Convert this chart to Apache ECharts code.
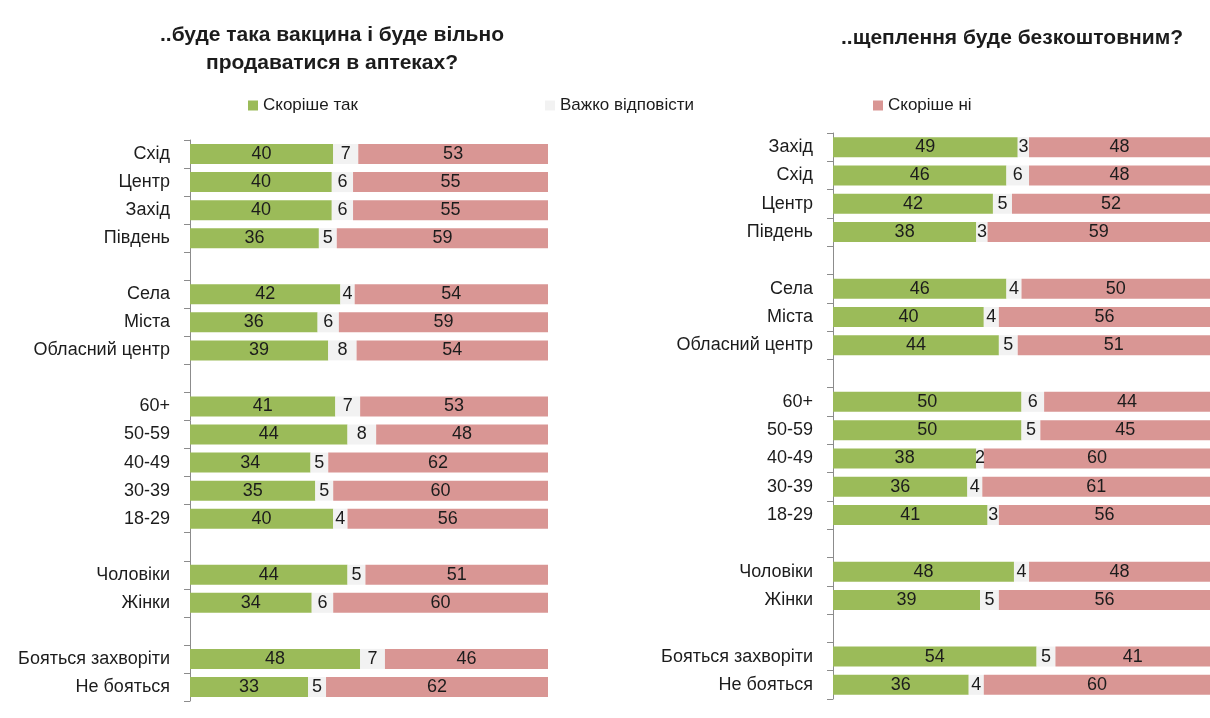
<!DOCTYPE html>
<html><head><meta charset="utf-8">
<script src="https://cdn.jsdelivr.net/npm/echarts@6/dist/echarts.min.js"></script>
<style>html,body{margin:0;padding:0;background:#fff}#c{width:1210px;height:718px}</style>
</head><body><div id="c"></div>
<script>
const leftCategories = ['Схід','Центр','Захід','Південь',' ','Села','Міста','Обласний центр','  ','60+','50-59','40-49','30-39','18-29','   ','Чоловіки','Жінки','    ','Бояться захворіти','Не бояться'];
const leftYes  = [40,40,40,36,null,42,36,39,null,41,44,34,35,40,null,44,34,null,48,33];
const leftHard = [7,6,6,5,null,4,6,8,null,7,8,5,5,4,null,5,6,null,7,5];
const leftNo   = [53,55,55,59,null,54,59,54,null,53,48,62,60,56,null,51,60,null,46,62];

const rightCategories = ['Захід','Схід','Центр','Південь',' ','Села','Міста','Обласний центр','  ','60+','50-59','40-49','30-39','18-29','   ','Чоловіки','Жінки','    ','Бояться захворіти','Не бояться'];
const rightYes  = [49,46,42,38,null,46,40,44,null,50,50,38,36,41,null,48,39,null,54,36];
const rightHard = [3,6,5,3,null,4,4,5,null,6,5,2,4,3,null,4,5,null,5,4];
const rightNo   = [48,48,52,59,null,50,56,51,null,44,45,60,61,56,null,48,56,null,41,60];

const seriesNames = ['Скоріше так','Важко відповісти','Скоріше ні'];
const colors = ['#9bbb59','#f2f2f2','#d99694'];
const FONT = '"Liberation Sans Narrow","Liberation Sans",Arial,sans-serif';

function norm(arrs){
  return arrs.map((a,k)=>a.map((v,i)=>{
    if(v===null) return null;
    const t = arrs[0][i]+arrs[1][i]+arrs[2][i];
    return {value: v/t*100, raw: v};
  }));
}
const L = norm([leftYes,leftHard,leftNo]);
const R = norm([rightYes,rightHard,rightNo]);

function makeSeries(data, idx){
  return data.map((d,k)=>({
    type:'bar', name:seriesNames[k], stack:'s'+idx, xAxisIndex:idx, yAxisIndex:idx,
    data:d, barWidth:20, itemStyle:{color:colors[k]},
    label:{show:true, position:'inside', color:'#1c1c1c', fontSize:18, fontFamily:FONT,
      formatter:p=>p.data && p.data.raw!=null ? p.data.raw : ''}
  }));
}

const yAx = (cats)=>({type:'category', inverse:true, data:cats,
  axisLine:{show:true, lineStyle:{color:'#8c8c8c'}},
  axisTick:{show:true, length:6, lineStyle:{color:'#8c8c8c'}},
  axisLabel:{color:'#1c1c1c', fontSize:18, fontFamily:FONT, margin:20},
  splitLine:{show:false}});
const xAx = ()=>({type:'value', min:0, max:100, show:false});

const chart = echarts.init(document.getElementById('c'));
chart.setOption({
  animation:false,
  backgroundColor:'#fff',
  title:[
    {text:'..буде така вакцина і буде вільно\nпродаватися в аптеках?', left:327, top:16, textAlign:'center',
     textStyle:{fontSize:21, fontWeight:'bold', color:'#1c1c1c', fontFamily:FONT, lineHeight:28}},
    {text:'..щеплення буде безкоштовним?', left:1007, top:23, textAlign:'center',
     textStyle:{fontSize:21, fontWeight:'bold', color:'#1c1c1c', fontFamily:FONT}}
  ],
  legend:[
    {data:[seriesNames[0]], left:243, top:92, icon:'rect', itemWidth:10, itemHeight:10, itemGap:4,
     textStyle:{fontSize:17, color:'#1c1c1c', fontFamily:FONT}},
    {data:[seriesNames[1]], left:540, top:92, icon:'rect', itemWidth:10, itemHeight:10,
     textStyle:{fontSize:17, color:'#1c1c1c', fontFamily:FONT}},
    {data:[seriesNames[2]], left:868, top:92, icon:'rect', itemWidth:10, itemHeight:10,
     textStyle:{fontSize:17, color:'#1c1c1c', fontFamily:FONT}}
  ],
  grid:[
    {left:190, width:358, top:140, height:561},
    {left:833, width:380, top:133, height:566}
  ],
  xAxis:[Object.assign(xAx(),{gridIndex:0}), Object.assign(xAx(),{gridIndex:1})],
  yAxis:[Object.assign(yAx(leftCategories),{gridIndex:0}), Object.assign(yAx(rightCategories),{gridIndex:1})],
  series:[...makeSeries(L,0), ...makeSeries(R,1)]
});
</script></body></html>
